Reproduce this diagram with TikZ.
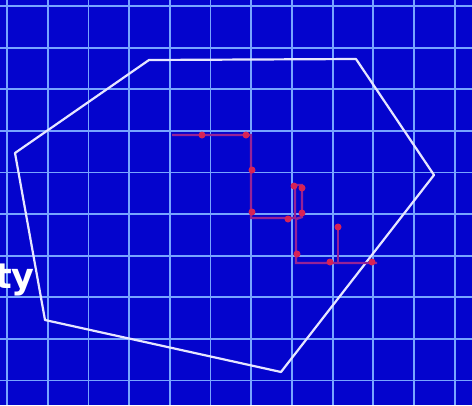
\documentclass[tikz,border=0pt]{standalone}
\usepackage{fontspec}
\newfontfamily\titrefont{DejaVu Sans}
\definecolor{fond}{RGB}{4,4,205}
\definecolor{grille}{RGB}{120,165,255}
\definecolor{bord}{RGB}{230,230,255}
\definecolor{marche}{RGB}{150,35,150}
\definecolor{pas}{RGB}{215,35,85}

\begin{document}
\begin{tikzpicture}[x=1pt,y=-1pt]
	% Styles (MODIFIABLES)
	\tikzstyle{quadrillage}=[grille,line width=1.8pt]
	\tikzstyle{contour}=[bord,line width=2.2pt,line join=round]
	\tikzstyle{chemin}=[marche,line width=2.4pt]
	\tikzstyle{point}=[circle,fill=pas,inner sep=0pt,minimum size=7pt]
	\tikzstyle{mot}=[text=white,inner sep=0pt,font=\titrefont\bfseries\fontsize{35}{35}\selectfont]
	% Dimensions (MODIFIABLES)
	\def\PasX{40.7}
	\def\PasY{41.6}
	\useasboundingbox (0,0) rectangle (472,405);
	\clip (0,0) rectangle (472,405);
	\fill[fond] (0,0) rectangle (472,405);
	% Quadrillage
	\foreach \i in {0,...,11} \draw[quadrillage] ({7+\i*\PasX},0) -- ({7+\i*\PasX},405);
	\foreach \j in {0,...,9} \draw[quadrillage] (0,{6+\j*\PasY}) -- (472,{6+\j*\PasY});
	% Sommets du polygone
	\coordinate (S1) at (149,60);
	\coordinate (S2) at (356,59);
	\coordinate (S3) at (434,175);
	\coordinate (S4) at (281,372);
	\coordinate (S5) at (45,320);
	\coordinate (S6) at (15,153);
	\draw[contour] (S1)--(S2)--(S3)--(S4)--(S5)--(S6)--cycle;
	% Texte
	\node[mot,anchor=base east] (ty) at (35,288) {ty};
	% Marche
	\coordinate (M0) at (172,135);
	\coordinate (M1) at (251,135);
	\coordinate (M2) at (251,218);
	\coordinate (M3) at (295,218);
	\coordinate (M4) at (295,185);
	\coordinate (M5) at (302,185);
	\coordinate (M6) at (302,217);
	\coordinate (M7) at (296,219);
	\coordinate (M8) at (296,263);
	\coordinate (M9) at (377,263);
	\coordinate (B0) at (338,226);
	\coordinate (B1) at (338,263);
	\draw[chemin] (M0)--(M1)--(M2)--(M3)--(M4)--(M5)--(M6)--(M7)--(M8)--(M9);
	\draw[chemin] (B0)--(B1);
	% Pas
	\foreach \x/\y [count=\k] in {202/135,246/135,252/170,252/212,288/219,294/186,302/188,302/213,297/254,330/262,372/262,338/227}
		\node[point] (P\k) at (\x,\y) {};
\end{tikzpicture}
\end{document}
